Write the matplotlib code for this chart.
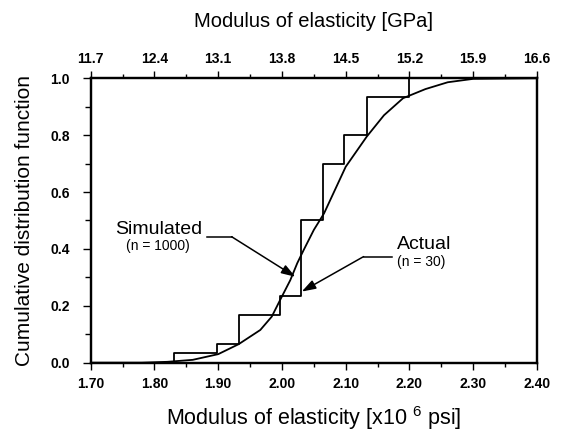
"""
Cumulative distribution of modulus of elasticity: simulated vs actual.
"""

import matplotlib

matplotlib.use("Agg")
import matplotlib.pyplot as plt
from matplotlib.ticker import MultipleLocator

plt.rcParams["font.family"] = ["Liberation Sans", "DejaVu Sans"]
plt.rcParams["mathtext.default"] = "regular"

# actual test data (n = 30), empirical CDF steps
actual_x = [1.70, 1.831, 1.898, 1.932, 1.997, 2.030, 2.065, 2.098, 2.133, 2.199, 2.40]
actual_cdf = [0.0, 0.033, 0.067, 0.167, 0.233, 0.500, 0.700, 0.800, 0.933, 1.0, 1.0]

# simulated CDF (n = 1000)
sim_x = [1.70, 1.78, 1.82, 1.86, 1.90, 1.932, 1.966, 1.984, 1.997, 2.013, 2.024,
         2.034, 2.050, 2.066, 2.100, 2.133, 2.160, 2.190, 2.225, 2.260, 2.300, 2.40]
sim_cdf = [0.0, 0.0, 0.003, 0.010, 0.030, 0.065, 0.115, 0.162, 0.220, 0.290, 0.350,
           0.396, 0.467, 0.525, 0.689, 0.795, 0.870, 0.930, 0.962, 0.986, 0.998, 1.0]

psi_ticks = [1.70, 1.80, 1.90, 2.00, 2.10, 2.20, 2.30, 2.40]
gpa_labels = ["11.7", "12.4", "13.1", "13.8", "14.5", "15.2", "15.9", "16.6"]
cdf_ticks = [0.0, 0.2, 0.4, 0.6, 0.8, 1.0]


def main():
    fig = plt.figure(figsize=(5.62, 4.43), dpi=100)
    ax = fig.add_axes([0.1614, 0.1813, 0.7941, 0.642])

    ax.step(actual_x, actual_cdf, where="post", color="black", lw=1.3)
    ax.plot(sim_x, sim_cdf, color="black", lw=1.3)

    ax.set_xlim(1.70, 2.40)
    ax.set_ylim(0.0, 1.0)
    ax.set_xticks(psi_ticks)
    ax.set_xticklabels([f"{v:.2f}" for v in psi_ticks])
    ax.set_yticks(cdf_ticks)
    ax.set_yticklabels([f"{v:.1f}" for v in cdf_ticks])
    ax.xaxis.set_minor_locator(MultipleLocator(0.05))
    ax.yaxis.set_minor_locator(MultipleLocator(0.1))

    for side in ["left", "right", "top", "bottom"]:
        ax.spines[side].set_linewidth(1.6)

    ax.tick_params(axis="both", which="both", direction="out", width=1.0)
    ax.tick_params(axis="x", which="major", length=5, pad=5)
    ax.tick_params(axis="x", which="minor", length=3)
    ax.tick_params(axis="y", which="major", length=6, pad=9)
    ax.tick_params(axis="y", which="minor", length=4)
    for lab in ax.get_xticklabels() + ax.get_yticklabels():
        lab.set_fontsize(10)
        lab.set_fontweight("bold")

    top = ax.twiny()
    top.set_xlim(ax.get_xlim())
    top.set_xticks(psi_ticks)
    top.set_xticklabels(gpa_labels, fontsize=10, fontweight="bold")
    top.xaxis.set_minor_locator(MultipleLocator(0.05))
    top.tick_params(axis="x", which="major", direction="out", length=5, width=1.0, pad=4)
    top.tick_params(axis="x", which="minor", direction="out", length=3, width=1.0)
    for side in ["left", "right", "top", "bottom"]:
        top.spines[side].set_linewidth(1.6)

    top.set_xlabel("Modulus of elasticity [GPa]", fontsize=14.5, labelpad=18)
    ax.set_xlabel("Modulus of elasticity [x10 $^{6}$ psi]", fontsize=15.5, labelpad=10)
    ax.set_ylabel("Cumulative distribution function", fontsize=15, labelpad=12)

    # Simulated label with leader line and arrow
    ax.plot([1.882, 1.921], [0.443, 0.443], color="black", lw=1.1)
    ax.annotate("", xy=(2.021, 0.302), xytext=(1.921, 0.443),
                arrowprops=dict(arrowstyle="-|>,head_length=0.6,head_width=0.2",
                                color="black", lw=1.1,
                                mutation_scale=14, shrinkA=0, shrinkB=0))
    ax.text(1.806, 0.47, "Simulated", fontsize=14, ha="center", va="center")
    ax.text(1.806, 0.41, "(n = 1000)", fontsize=10, ha="center", va="center")

    # Actual label with leader line and arrow
    ax.plot([2.128, 2.172], [0.373, 0.373], color="black", lw=1.1)
    ax.annotate("", xy=(2.031, 0.25), xytext=(2.128, 0.373),
                arrowprops=dict(arrowstyle="-|>,head_length=0.6,head_width=0.2",
                                color="black", lw=1.1,
                                mutation_scale=14, shrinkA=0, shrinkB=0))
    ax.text(2.180, 0.414, "Actual", fontsize=14, ha="left", va="center")
    ax.text(2.180, 0.354, "(n = 30)", fontsize=10, ha="left", va="center")

    fig.savefig("out.png", dpi=100)


if __name__ == "__main__":
    main()
